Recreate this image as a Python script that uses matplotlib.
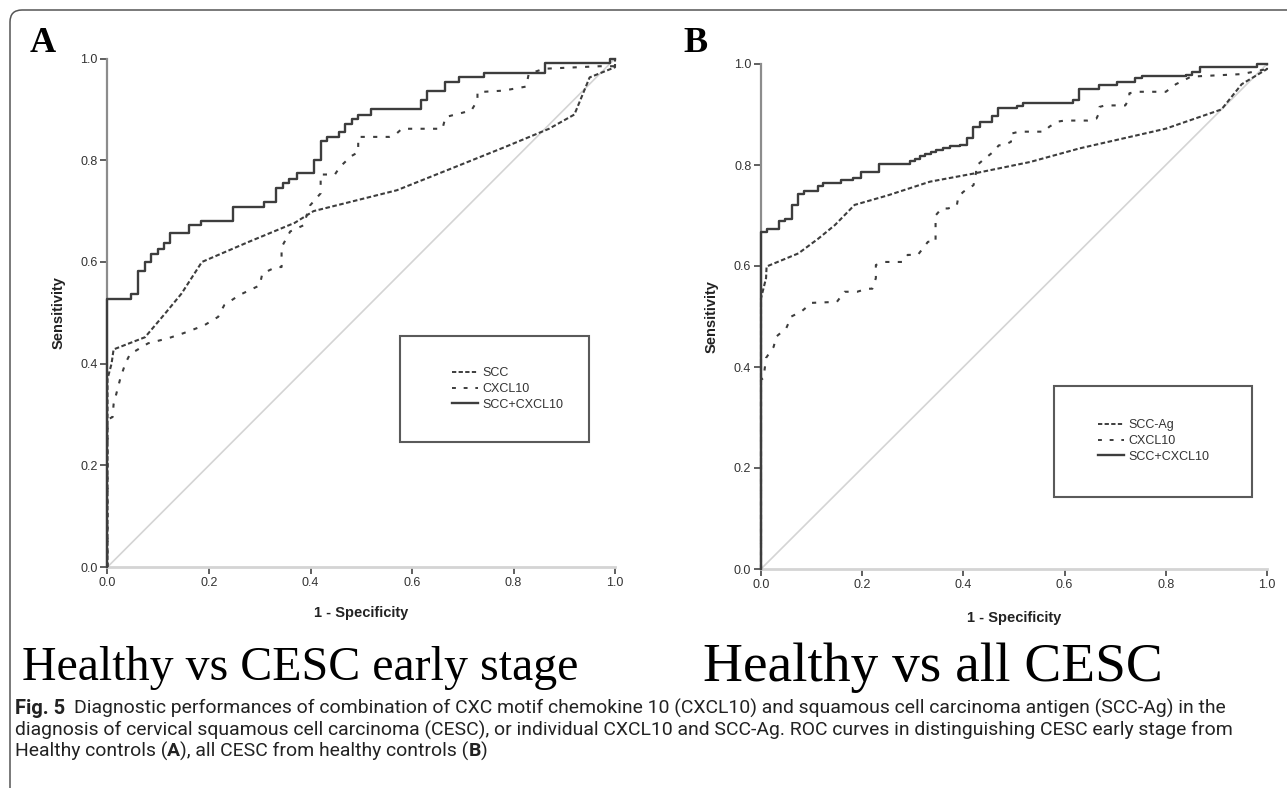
import matplotlib
matplotlib.use('Agg')
import matplotlib.pyplot as plt
from matplotlib import patches, font_manager
from matplotlib.lines import Line2D
from matplotlib.transforms import IdentityTransform
from matplotlib.offsetbox import TextArea, HPacker, AnchoredOffsetbox

# ---- data ----
# Panel A: Healthy vs CESC early stage
a_scc_x = [0, 0.0, 0.008, 0.012, 0.074, 0.113, 0.146, 0.186, 0.277, 0.369, 0.406, 0.570, 0.668, 0.783, 0.870, 0.920, 0.950, 1.0, 1.0]
a_scc_y = [0, 0.370, 0.400, 0.428, 0.452, 0.498, 0.538, 0.600, 0.639, 0.677, 0.700, 0.741, 0.780, 0.826, 0.862, 0.890, 0.963, 0.983, 1.0]

a_cxcl_x = [0, 0.0, 0.010, 0.012, 0.025, 0.035, 0.045, 0.055, 0.080, 0.120, 0.150, 0.190, 0.218, 0.230,
            0.260, 0.300, 0.305, 0.332, 0.343, 0.343, 0.360, 0.386, 0.399, 0.420, 0.420, 0.448, 0.458,
            0.480, 0.494, 0.494, 0.555, 0.569, 0.580, 0.660, 0.666, 0.717, 0.729, 0.729, 0.780, 0.825,
            0.830, 0.860, 0.970, 1.0, 1.0]
a_cxcl_y = [0, 0.290, 0.295, 0.320, 0.370, 0.400, 0.420, 0.425, 0.440, 0.450, 0.460, 0.475, 0.492, 0.515,
            0.535, 0.554, 0.577, 0.590, 0.590, 0.629, 0.660, 0.672, 0.711, 0.735, 0.772, 0.772, 0.787,
            0.808, 0.816, 0.846, 0.846, 0.852, 0.862, 0.862, 0.885, 0.898, 0.918, 0.934, 0.937, 0.945,
            0.970, 0.980, 0.985, 0.985, 1.0]

a_comb_x = [0, 0, 0.047, 0.061, 0.074, 0.085, 0.099, 0.112, 0.124, 0.161, 0.184, 0.247, 0.309, 0.333, 0.346,
            0.357, 0.373, 0.407, 0.420, 0.432, 0.457, 0.468, 0.481, 0.494, 0.519, 0.617, 0.629, 0.666,
            0.693, 0.742, 0.863, 0.990, 1.0]
a_comb_y = [0, 0.528, 0.536, 0.582, 0.600, 0.616, 0.626, 0.637, 0.656, 0.672, 0.681, 0.708, 0.717, 0.746, 0.755,
            0.764, 0.774, 0.800, 0.837, 0.846, 0.855, 0.872, 0.881, 0.890, 0.900, 0.918, 0.936, 0.954,
            0.964, 0.972, 0.992, 1.0, 1.0]

# Panel B: Healthy vs all CESC
b_scc_x = [0, 0.0, 0.010, 0.011, 0.074, 0.113, 0.146, 0.185, 0.251, 0.334, 0.420, 0.532, 0.630, 0.770, 0.800, 0.910, 0.950, 1.0, 1.0]
b_scc_y = [0, 0.536, 0.576, 0.599, 0.625, 0.654, 0.681, 0.721, 0.740, 0.767, 0.783, 0.806, 0.833, 0.865, 0.872, 0.910, 0.960, 0.990, 1.0]

b_cxcl_x = [0, 0.0, 0.005, 0.010, 0.025, 0.030, 0.050, 0.060, 0.080, 0.100, 0.150, 0.165, 0.190, 0.210, 0.220,
            0.227, 0.227, 0.245, 0.280, 0.290, 0.310, 0.330, 0.345, 0.345, 0.357, 0.370, 0.387, 0.390, 0.400,
            0.420, 0.425, 0.425, 0.439, 0.459, 0.470, 0.480, 0.494, 0.494, 0.510, 0.560, 0.570, 0.587, 0.600,
            0.645, 0.663, 0.669, 0.669, 0.680, 0.720, 0.728, 0.728, 0.740, 0.800, 0.820, 0.850, 0.950, 1.0, 1.0]
b_cxcl_y = [0, 0.375, 0.378, 0.418, 0.440, 0.460, 0.477, 0.500, 0.510, 0.527, 0.529, 0.549, 0.549, 0.555, 0.555,
            0.576, 0.602, 0.608, 0.608, 0.622, 0.622, 0.648, 0.648, 0.700, 0.714, 0.714, 0.720, 0.737, 0.747,
            0.760, 0.785, 0.798, 0.810, 0.826, 0.839, 0.839, 0.846, 0.862, 0.866, 0.866, 0.876, 0.886, 0.888,
            0.888, 0.892, 0.905, 0.915, 0.918, 0.918, 0.932, 0.942, 0.945, 0.945, 0.960, 0.975, 0.980, 0.990, 1.0]

b_comb_x = [0, 0, 0.011, 0.036, 0.047, 0.061, 0.074, 0.084, 0.112, 0.123, 0.159, 0.182, 0.198, 0.234, 0.294,
            0.305, 0.315, 0.325, 0.335, 0.345, 0.360, 0.373, 0.393, 0.407, 0.418, 0.432, 0.456, 0.469, 0.505,
            0.518, 0.617, 0.629, 0.667, 0.704, 0.739, 0.752, 0.839, 0.852, 0.867, 0.980, 1.0]
b_comb_y = [0, 0.667, 0.673, 0.689, 0.694, 0.721, 0.743, 0.748, 0.759, 0.765, 0.770, 0.775, 0.786, 0.802, 0.807,
            0.812, 0.817, 0.822, 0.826, 0.830, 0.834, 0.838, 0.840, 0.853, 0.876, 0.886, 0.898, 0.913, 0.916,
            0.923, 0.929, 0.950, 0.958, 0.964, 0.972, 0.976, 0.978, 0.985, 0.995, 1.0, 1.0]

diag = [0, 1]
ticks = [0.0, 0.2, 0.4, 0.6, 0.8, 1.0]
tick_labels = ['0.0', '0.2', '0.4', '0.6', '0.8', '1.0']

labels_a = ['SCC', 'CXCL10', 'SCC+CXCL10']
labels_b = ['SCC-Ag', 'CXCL10', 'SCC+CXCL10']
subtitles = ['Healthy vs CESC early stage', 'Healthy vs all CESC']
caption_lines = [
    'Diagnostic performances of combination of CXC motif chemokine 10 (CXCL10) and squamous cell carcinoma antigen (SCC-Ag) in the',
    'diagnosis of cervical squamous cell carcinoma (CESC), or individual CXCL10 and SCC-Ag. ROC curves in distinguishing CESC early stage from',
]
caption_last = [('Healthy controls (', 'normal'), ('A', 'bold'), ('), all CESC from healthy controls (', 'normal'),
                ('B', 'bold'), (')', 'normal')]

W, H = 1287, 788
names = {f.name for f in font_manager.fontManager.ttflist}
sans = 'Liberation Sans' if 'Liberation Sans' in names else 'DejaVu Sans'
serif = 'Liberation Serif' if 'Liberation Serif' in names else 'DejaVu Serif'
narrow = 'Liberation Sans Narrow' if 'Liberation Sans Narrow' in names else ('Roboto' if 'Roboto' in names else sans)
plt.rcParams['font.family'] = sans

CURVE = '#3d3d3d'
fig = plt.figure(figsize=(W / 100, H / 100), dpi=100)
fig.patch.set_facecolor('white')


def px(x, y):
    return x / W, 1 - y / H


def roc_panel(rect, scc, cxcl, comb, labels, box, leg_anchor, xlab_y):
    ax = fig.add_axes(rect)
    ax.plot(diag, diag, color='#d4d4d4', lw=1.2, zorder=1)
    ax.plot(scc[0], scc[1], color=CURVE, lw=1.5, dashes=(2.2, 1.2), clip_on=False, zorder=3)
    ax.plot(cxcl[0], cxcl[1], color=CURVE, lw=1.5, dashes=(2.0, 4.0), clip_on=False, zorder=3)
    ax.step(comb[0], comb[1], where='post', color=CURVE, lw=1.7, clip_on=False, zorder=4)
    ax.set_xlim(0, 1)
    ax.set_ylim(0, 1)
    ax.set_xticks(ticks)
    ax.set_xticklabels(tick_labels)
    ax.set_yticks(ticks)
    ax.set_yticklabels(tick_labels)
    ax.tick_params(direction='out', length=5, width=1.2, color='#444', labelsize=9,
                   labelcolor='#333', pad=2)
    for s in ['top', 'right']:
        ax.spines[s].set_visible(False)
    ax.spines['left'].set_color('#8c8c8c')
    ax.spines['left'].set_linewidth(1.6)
    ax.spines['bottom'].set_color('#d4d4d4')
    ax.spines['bottom'].set_linewidth(2)
    ax.set_ylabel('Sensitivity', fontsize=10.5, fontweight='bold', color='#222')
    ax.yaxis.set_label_coords(-0.083, 0.5)
    ax.set_xlabel('1 - Specificity', fontsize=10.5, fontweight='bold', color='#222')
    ax.xaxis.set_label_coords(0.5, xlab_y)
    # legend box
    ax.add_patch(patches.Rectangle((box[0], box[1]), box[2] - box[0], box[3] - box[1],
                                   fill=False, edgecolor='#5a5a5a', lw=1.5, zorder=5))
    handles = [Line2D([], [], color=CURVE, lw=1.4, dashes=(2.2, 1.2)),
               Line2D([], [], color=CURVE, lw=1.4, dashes=(2.0, 4.0)),
               Line2D([], [], color=CURVE, lw=1.7)]
    ax.legend(handles, labels, loc='center left', bbox_to_anchor=leg_anchor, frameon=False,
              borderpad=0, borderaxespad=0, handlelength=2.1, handletextpad=0.3,
              labelspacing=0.3, prop={'size': 9}, labelcolor='#333')
    return ax


ax_a = roc_panel([107.5 / W, (H - 567) / H, 507.5 / W, 508.4 / H],
                 (a_scc_x, a_scc_y), (a_cxcl_x, a_cxcl_y), (a_comb_x, a_comb_y), labels_a,
                 (0.576, 0.246, 0.949, 0.455), (0.679, 0.350), -0.077)
ax_b = roc_panel([761 / W, (H - 569) / H, 506 / W, 505 / H],
                 (b_scc_x, b_scc_y), (b_cxcl_x, b_cxcl_y), (b_comb_x, b_comb_y), labels_b,
                 (0.579, 0.142, 0.971, 0.363), (0.666, 0.2535), -0.083)

# outer frame with rounded corner
frame = patches.FancyBboxPatch((10, -30), W + 40, H - 10 + 30,
                               boxstyle='round,pad=0,rounding_size=12',
                               transform=IdentityTransform(), fill=False,
                               edgecolor='#555', lw=1.1)
fig.patches.append(frame)

# panel letters
fig.text(*px(43, 43), 'A', ha='center', va='center', fontsize=26, fontweight='bold', family=serif)
fig.text(*px(695, 43), 'B', ha='center', va='center', fontsize=26, fontweight='bold', family=serif)

renderer = fig.canvas.get_renderer()


def fit_size(s, width, size, **kw):
    t = fig.text(0, 0, s, fontsize=size, **kw)
    w = t.get_window_extent(renderer).width
    t.remove()
    return size * width / w


def fit_text(x, y, s, width, size, **kw):
    return fig.text(*px(x, y), s, fontsize=fit_size(s, width, size, **kw), **kw)


fit_text(300, 668, subtitles[0], 556, 34, ha='center', va='center', family=serif)
fit_text(933, 668, subtitles[1], 460, 34, ha='center', va='center', family=serif)

# caption
cap = dict(va='center', family=narrow, color='#222')
cs = min(fit_size(caption_lines[0], 1262 - 74, 11, family=narrow),
         fit_size(caption_lines[1], 1228 - 15, 11, family=narrow))
fig.text(*px(15, 708), 'Fig. 5', fontsize=cs + 0.5, fontweight='bold', **cap)
fig.text(*px(74, 708), caption_lines[0], fontsize=cs, **cap)
fig.text(*px(15, 730), caption_lines[1], fontsize=cs, **cap)
boxes = [TextArea(s, textprops=dict(fontsize=cs, fontweight=w, family=narrow, color='#222'))
         for s, w in caption_last]
pack = HPacker(children=boxes, align='baseline', pad=0, sep=0)
anch = AnchoredOffsetbox(loc='center left', child=pack, frameon=False, pad=0, borderpad=0,
                         bbox_to_anchor=px(15, 751), bbox_transform=fig.transFigure)
fig.add_artist(anch)

fig.savefig('out.png', dpi=100, facecolor='white')
